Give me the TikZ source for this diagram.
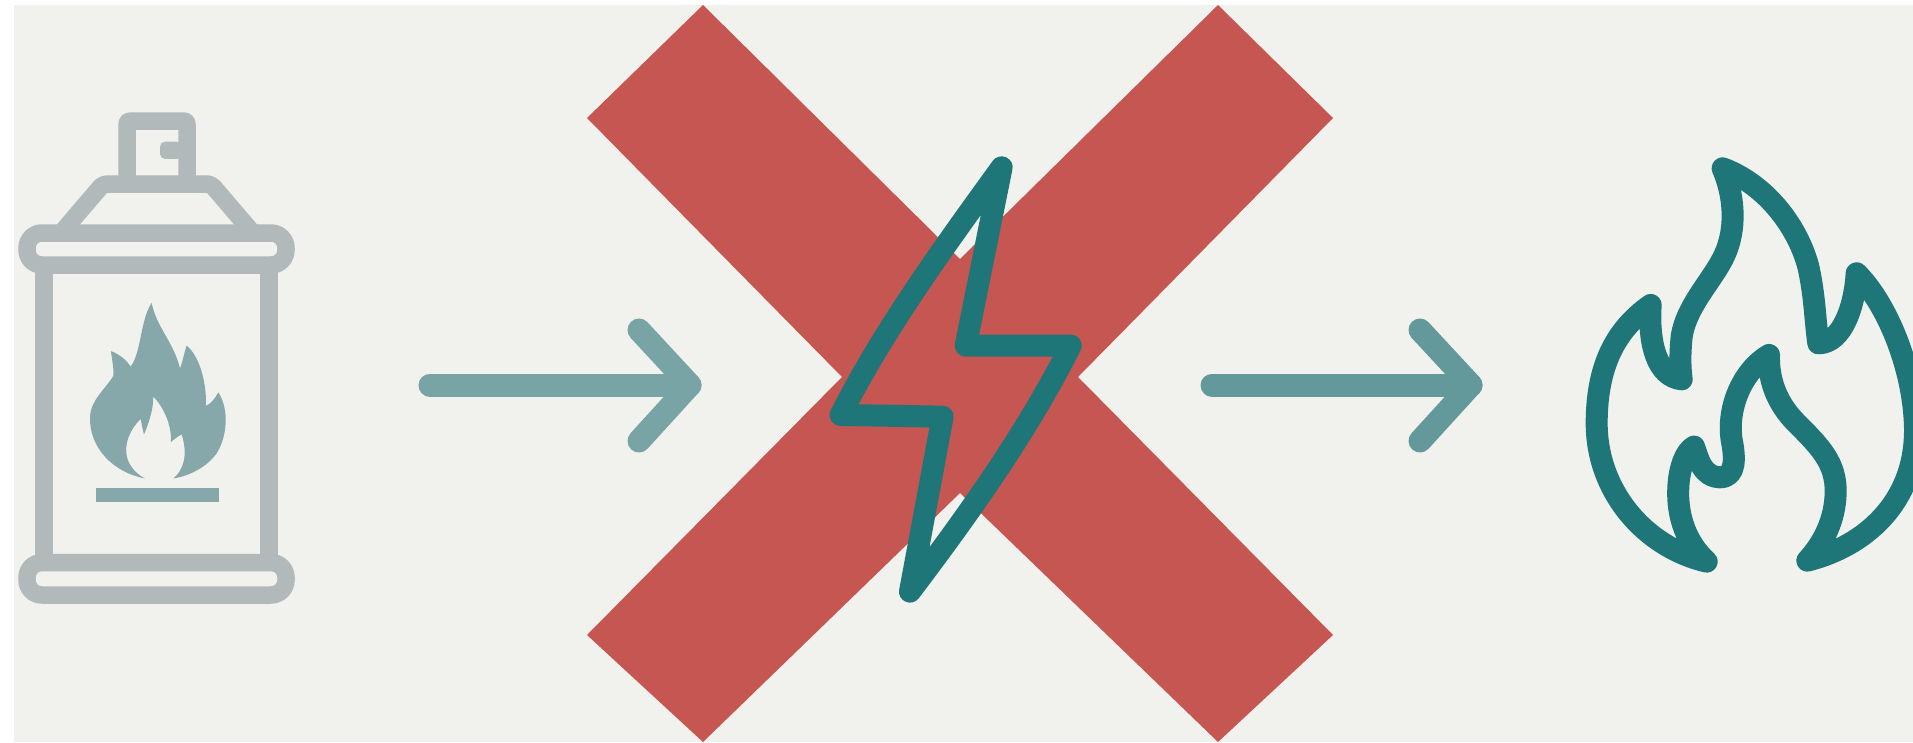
\documentclass[tikz,border=0pt]{standalone}
\definecolor{pagebg}{HTML}{F1F1ED}
\definecolor{crossred}{HTML}{C55651}
\definecolor{cangrey}{HTML}{B1B9BA}
\definecolor{canflame}{HTML}{86A8AB}
\definecolor{arrowa}{HTML}{79A4A5}
\definecolor{arrowb}{HTML}{64999B}
\definecolor{deepteal}{HTML}{1F7679}
\tikzset{
  canline/.style={draw=cangrey,line width=17.5pt,line join=round},
  arrowline/.style={line width=23pt,line cap=round,line join=round},
  tealline/.style={draw=deepteal,line width=22pt,line join=round,line cap=round},
}
\begin{document}
\begin{tikzpicture}[x=1pt,y=-1pt]
\useasboundingbox (0,0) rectangle (1913,742);
\fill[white] (0,0) rectangle (1913,742);
\fill[pagebg] (14,5) rectangle (1913,742);
% red cross
\fill[crossred] (703,5) -- (960,259) -- (1218,5) -- (1333,118) -- (1078,377)
  -- (1333,635) -- (1218,742) -- (960,493) -- (703,742) -- (587,635) -- (842,377) -- (587,118) -- cycle;
% spray can
\draw[canline,rounded corners=3pt] (127,186) -- (127,121) -- (187,121) -- (187,186);
\fill[cangrey,rounded corners=5pt] (182,141.7) -- (160,141.7) -- (160,158.9) -- (182,158.9) -- cycle;
\draw[canline,rounded corners=4pt] (62,232) -- (103,184) -- (211,184) -- (252,232);
\draw[canline] (44,264) -- (44,563);
\draw[canline] (269,264) -- (269,563);
\draw[canline,rounded corners=15pt] (27,233) rectangle (286,265);
\draw[canline,rounded corners=15pt] (27,562.5) rectangle (286,595);
\begin{scope}[shift={(0,90)},x=0.3333pt,y=-0.3444pt]
  \fill[canflame] (435,1128) .. controls (340,1110) and (268,1040) .. (270,950)
    .. controls (272,900) and (315,870) .. (340,830) .. controls (342,805) and (335,780) .. (333,758)
    .. controls (360,768) and (380,785) .. (392,803) .. controls (425,760) and (420,670) .. (455,618)
    .. controls (470,690) and (520,730) .. (540,808) .. controls (548,790) and (552,765) .. (560,742)
    .. controls (595,770) and (620,840) .. (618,917) .. controls (635,910) and (645,895) .. (655,878)
    .. controls (690,930) and (680,1010) .. (650,1055) .. controls (620,1095) and (570,1120) .. (520,1128)
    .. controls (550,1105) and (565,1060) .. (545,1000) .. controls (535,1005) and (525,1012) .. (513,1022)
    .. controls (515,970) and (490,920) .. (460,890) .. controls (460,930) and (445,970) .. (432,1000)
    .. controls (428,985) and (425,970) .. (422,955) .. controls (390,985) and (370,1030) .. (382,1070)
    .. controls (390,1095) and (410,1115) .. (435,1128) -- cycle;
  \fill[canflame] (287,1155) rectangle (657,1197);
\end{scope}
% arrows
\coordinate (aStart) at (430,385);
\coordinate (aTip) at (690,385);
\coordinate (aUp) at (639,330);
\coordinate (aDown) at (639,441);
\coordinate (bStart) at (1212,385);
\coordinate (bTip) at (1471,385);
\coordinate (bUp) at (1420,330);
\coordinate (bDown) at (1420,441);
\draw[arrowline,draw=arrowa] (aStart) -- (aTip);
\draw[arrowline,draw=arrowa] (aUp) -- (aTip) -- (aDown);
\draw[arrowline,draw=arrowb] (bStart) -- (bTip);
\draw[arrowline,draw=arrowb] (bUp) -- (bTip) -- (bDown);
% lightning bolt
\begin{scope}[shift={(800,140)},x=0.3333pt,y=-0.3333pt]
  \draw[tealline] (605,82) .. controls (440,310) and (250,570) .. (122,825)
    -- (428,830) -- (330,1355)
    .. controls (500,1130) and (680,880) .. (812,617)
    -- (497,617) -- cycle;
\end{scope}
% outlined flame
\begin{scope}[shift={(1570,140)},x=0.3333pt,y=-0.3333pt]
  \draw[tealline] (410,1265) .. controls (350,1210) and (320,1130) .. (325,1040)
    .. controls (328,985) and (345,935) .. (372,920)
    .. controls (385,955) and (395,1010) .. (450,1012)
    .. controls (500,1012) and (495,950) .. (485,900)
    .. controls (470,800) and (520,690) .. (597,645)
    .. controls (595,720) and (620,790) .. (680,850)
    .. controls (750,920) and (800,970) .. (797,1060)
    .. controls (795,1140) and (760,1210) .. (712,1262)
    .. controls (880,1220) and (1040,1090) .. (1035,860)
    .. controls (1030,680) and (950,490) .. (860,400)
    .. controls (855,490) and (820,610) .. (745,610)
    .. controls (735,540) and (735,470) .. (715,380)
    .. controls (680,250) and (580,130) .. (458,85)
    .. controls (490,160) and (500,250) .. (470,330)
    .. controls (440,410) and (350,490) .. (335,590)
    .. controls (330,640) and (330,680) .. (335,718)
    .. controls (260,710) and (235,610) .. (242,495)
    .. controls (150,560) and (80,660) .. (80,850)
    .. controls (80,1050) and (220,1220) .. (410,1265) -- cycle;
\end{scope}
\end{tikzpicture}
\end{document}
